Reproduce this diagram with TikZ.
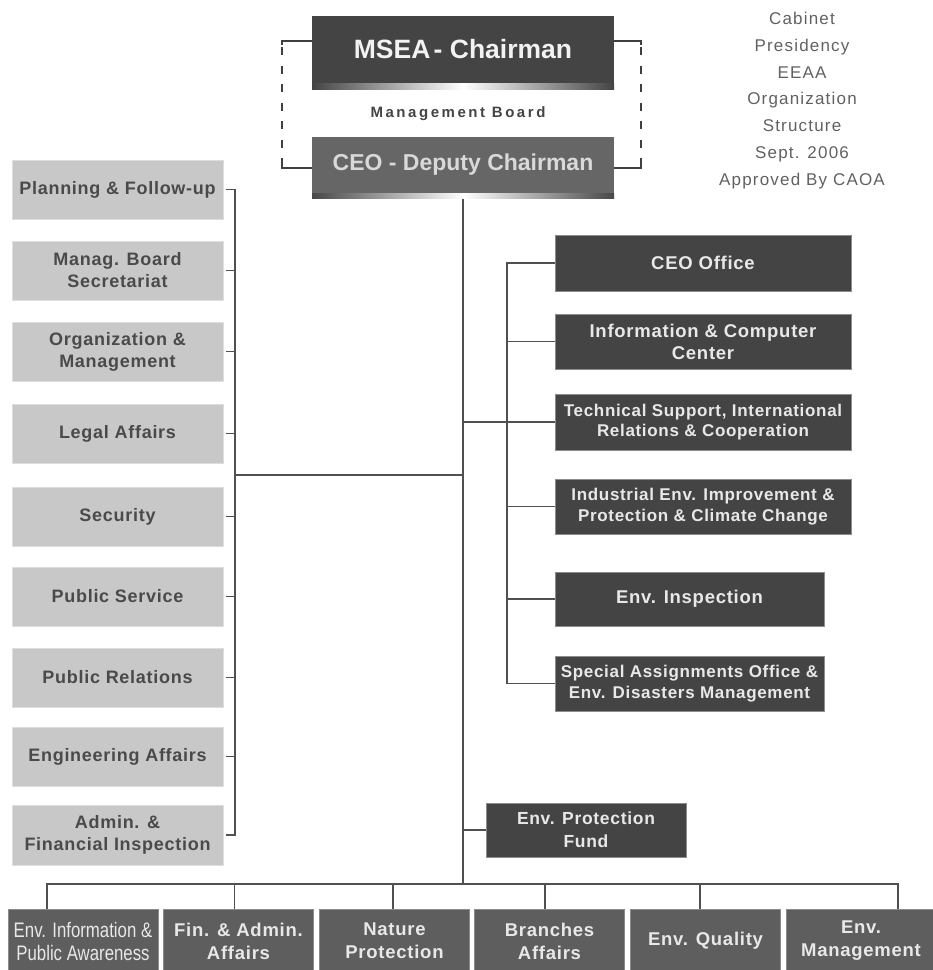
\documentclass[tikz,border=0pt]{standalone}
\usepackage{fontspec}
\setmainfont{Liberation Sans}
\newfontfamily\bfam{Liberation Sans}[LetterSpace=4]
\newfontfamily\tfam{Liberation Sans}[LetterSpace=7]
\newfontfamily\mbfam{Liberation Sans}[LetterSpace=17]
\newfontfamily\narrowfam{Liberation Sans}[FakeStretch=0.8]
\definecolor{dk}{HTML}{444444}
\definecolor{midg}{HTML}{666666}
\definecolor{btm}{HTML}{5E5E5E}
\definecolor{lt}{HTML}{C8C8C8}
\definecolor{lttext}{HTML}{4A4A4A}
\definecolor{ln}{HTML}{505050}
\definecolor{wtext}{HTML}{E8E8E8}
\definecolor{edge}{HTML}{8C8C8C}
\begin{document}
\begin{tikzpicture}[x=1pt,y=-1pt,
  box/.style={rectangle, inner sep=0pt, align=center},
  lbox/.style={box, fill=lt, draw=lt!60!white, line width=0.6pt, text=lttext,
    minimum width=211pt, minimum height=59pt,
    font=\bfam\bfseries\fontsize{18}{22}\selectfont},
  rbox/.style={box, fill=dk, draw=edge, line width=0.7pt, text=wtext,
    minimum width=296pt, minimum height=55pt,
    font=\bfam\bfseries\fontsize{17}{20.5}\selectfont},
  rboxbig/.style={rbox, font=\bfam\bfseries\fontsize{18.5}{22}\selectfont},
  bbox/.style={box, fill=btm, draw=edge, line width=0.7pt, text=wtext,
    minimum width=150pt, minimum height=64pt,
    font=\bfam\bfseries\fontsize{18.5}{23}\selectfont},
  topbox/.style={box, minimum width=302pt, text=wtext},
  strip/.style={box, minimum width=302pt, left color=dk, right color=dk, middle color=white},
  conn/.style={draw=ln, line width=1.5pt},
  brk/.style={draw=black!75, line width=1.2pt}
]
\useasboundingbox (0,0) rectangle (933,970);

% ---- top boxes ----
\node[topbox, fill=dk, minimum height=67pt,
  font=\bfseries\fontsize{26.5}{28}\selectfont, text=white!95!black]
  (msea) at (463,49.5) {MSEA\kern-4pt{} - Chairman};
\node[strip, minimum height=6pt, anchor=north] (mseastrip) at (msea.south) {};
\node[text=dk, font=\mbfam\bfseries\fontsize{15}{18}\selectfont] (mb) at (458,114) {Management Board};
\node[topbox, fill=midg, minimum height=56pt,
  font=\bfseries\fontsize{23}{26}\selectfont, text=white!85!black]
  (ceo) at (463,165) {CEO - Deputy Chairman};
\node[strip, minimum height=5pt, anchor=north, left color=midg!70!black, right color=midg!70!black, middle color=white] (ceostrip) at (ceo.south) {};

% dashed bracket
\coordinate (bl1) at (282,41);
\coordinate (bl2) at (282,168);
\coordinate (br1) at (641,41);
\coordinate (br2) at (641,168);
\draw[brk] (msea.west |- bl1) -- (bl1) -- ++(0,4);
\draw[brk] (ceo.west |- bl2) -- (bl2) -- ++(0,-4);
\draw[brk] (msea.east |- br1) -- (br1) -- ++(0,4);
\draw[brk] (ceo.east |- br2) -- (br2) -- ++(0,-4);
\draw[brk, dash pattern=on 8pt off 10.5pt, dash phase=-6pt] (bl1) -- (bl2);
\draw[brk, dash pattern=on 8pt off 10.5pt, dash phase=-6pt] (br1) -- (br2);

% title text
\node[align=center, text=black!62, font=\tfam\fontsize{17}{26.8}\selectfont] (title) at (802,100.5)
  {Cabinet\\Presidency\\EEAA\\Organization\\Structure\\Sept. 2006\\Approved By CAOA};

% ---- left column ----
\node[lbox] (L1) at (117.5,189.5) {Planning \& Follow-up};
\node[lbox] (L2) at (117.5,270.5) {Manag. Board\\Secretariat};
\node[lbox] (L3) at (117.5,351.5) {Organization \&\\Management};
\node[lbox] (L4) at (117.5,433.5) {Legal Affairs};
\node[lbox] (L5) at (117.5,516.5) {Security};
\node[lbox] (L6) at (117.5,596.5) {Public Service};
\node[lbox] (L7) at (117.5,677.5) {Public Relations};
\node[lbox] (L8) at (117.5,756.5) {Engineering Affairs};
\node[lbox, minimum height=60pt] (L9) at (117.5,835) {Admin. \&\\Financial Inspection};

% ---- right column ----
\node[rboxbig, minimum height=56pt] (R1) at (703,263) {CEO Office};
\node[rboxbig] (R2) at (703,341.5) {Information \& Computer\\Center};
\node[rbox, minimum height=56pt] (R3) at (703,422) {Technical Support, International\\Relations \& Cooperation};
\node[rbox] (R4) at (703,506.5) {Industrial Env. Improvement \&\\Protection \& Climate Change};
\node[rboxbig, minimum width=269pt, minimum height=54pt] (R5) at (689.5,599) {Env. Inspection};
\node[rbox, minimum width=269pt] (R6) at (689.5,683.5) {Special Assignments Office \&\\Env. Disasters Management};

\node[rbox, minimum width=200pt, minimum height=54pt,
  font=\bfam\bfseries\fontsize{17.5}{23}\selectfont] (F) at (586,830) {Env. Protection\\Fund};

% ---- bottom row ----
\node[bbox, font=\narrowfam\fontsize{21}{23}\selectfont] (B1) at (83,941) {Env. Information \&\\Public Awareness};
\node[bbox] (B2) at (238.5,941) {Fin. \& Admin.\\Affairs};
\node[bbox] (B3) at (394.5,941) {Nature\\Protection};
\node[bbox] (B4) at (549.5,941) {Branches\\Affairs};
\node[bbox] (B5) at (705.5,941) {Env. Quality};
\node[bbox] (B6) at (861,941) {Env.\\Management};

% ---- connectors ----
\coordinate (trunk) at (ceostrip.south);
\coordinate (bus) at (463,884);
\coordinate (lv) at (235,475);
\coordinate (rv) at (507,263);

\draw[conn] (trunk) -- (bus);

% left spine
\draw[conn] ([xshift=3pt]L1.east) -| (lv |- L9.east) -- ([xshift=3pt]L9.east);
\foreach \i in {2,...,8}{
  \draw[conn] ([xshift=3pt]L\i.east) -- (L\i.east -| lv);
}
\draw[conn] (lv) -- (lv -| trunk);

% right spine
\draw[conn] (R1.west) -| (rv |- R6.west) -- (R6.west);
\foreach \i in {2,4,5}{
  \draw[conn] (R\i.west) -- (R\i.west -| rv);
}
\draw[conn] (R3.west -| trunk) -- (R3.west);
\draw[conn] (F.west -| trunk) -- (F.west);

% bottom bus
\draw[conn] ([xshift=-36pt]B1.north) |- ([xshift=37pt]B6.north |- bus) -- ([xshift=37pt]B6.north);
\draw[conn] ([xshift=-4pt]B2.north) -- ([xshift=-4pt]B2.north |- bus);
\draw[conn] ([xshift=-1.5pt]B3.north) -- ([xshift=-1.5pt]B3.north |- bus);
\draw[conn] ([xshift=-4.5pt]B4.north) -- ([xshift=-4.5pt]B4.north |- bus);
\draw[conn] ([xshift=-5.5pt]B5.north) -- ([xshift=-5.5pt]B5.north |- bus);
\end{tikzpicture}
\end{document}
